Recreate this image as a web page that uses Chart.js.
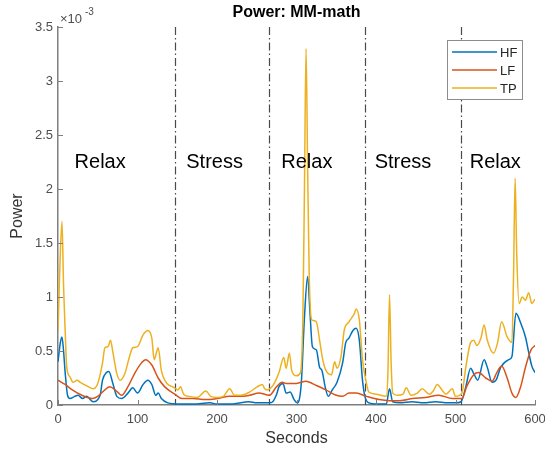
<!DOCTYPE html>
<html>
<head>
<meta charset="utf-8">
<script src="https://cdn.jsdelivr.net/npm/chart.js@4"></script>
<style>
  body { margin: 0; background: #fff; }
  canvas { display: block; }
</style>
</head>
<body>
<canvas id="powerChart" width="545" height="450"></canvas>
<script>
// power values are in units of 1e-3 (axis shows the x10^-3 multiplier)
const hfSec = [0, 3, 5, 7, 9, 12, 15, 21, 25, 31, 36, 44, 53, 56, 61, 64, 69, 74, 80, 88, 94, 100, 107, 113, 118, 123, 126, 130, 138, 150,
    170, 191, 200, 220, 240, 250, 260, 266, 270, 275, 278, 283, 287, 292, 297, 301, 306, 310, 314, 317, 320, 325, 329, 332, 336, 340, 345, 351, 358, 362,
    366, 371, 375, 379, 383, 386, 391, 400, 413, 417, 421, 430, 445, 460, 475, 490, 500, 507, 513, 519, 523, 528, 536, 540, 546, 551, 557, 567, 571, 576,
    582, 588, 592, 596, 600];
const hfVal = [0.4, 0.58, 0.63, 0.5, 0.3, 0.09, 0.06, 0.08, 0.09, 0.06, 0.08, 0.03, 0.09, 0.23, 0.3, 0.31, 0.2, 0.08, 0.06, 0.11, 0.16, 0.11, 0.19, 0.23, 0.19, 0.09, 0.11, 0.06, 0.02, 0.01,
    0.01, 0.02, 0.01, 0.01, 0.03, 0.02, 0.02, 0.02, 0.03, 0.1, 0.17, 0.2, 0.11, 0.12, 0.05, 0.02, 0.2, 0.81, 1.19, 0.85, 0.54, 0.51, 0.35, 0.32, 0.17, 0.08, 0.14, 0.21, 0.39, 0.58,
    0.62, 0.69, 0.71, 0.6, 0.23, 0.08, 0.02, 0.01, 0.01, 0.15, 0.03, 0.02, 0.03, 0.02, 0.03, 0.02, 0.02, 0.03, 0.17, 0.34, 0.29, 0.23, 0.42, 0.35, 0.21, 0.23, 0.35, 0.42, 0.45, 0.85,
    0.76, 0.63, 0.49, 0.36, 0.3];

const lfSec = [0, 9, 18, 30, 43, 50, 59, 65, 75, 80, 88, 97, 105, 110, 118, 126, 134, 147, 156, 170, 185, 200, 216, 230, 241, 253, 260, 266, 275, 282,
    287, 300, 312, 325, 337, 350, 358, 366, 375, 388, 404, 417, 430, 446, 462, 479, 496, 508, 514, 523, 529, 538, 546, 552, 558, 565, 571, 576, 582, 588,
    595, 600];
const lfVal = [0.23, 0.19, 0.14, 0.09, 0.06, 0.08, 0.14, 0.17, 0.12, 0.09, 0.17, 0.3, 0.39, 0.42, 0.37, 0.25, 0.17, 0.1, 0.06, 0.06, 0.05, 0.06, 0.08, 0.08, 0.09, 0.11, 0.1, 0.09, 0.17, 0.21,
    0.2, 0.2, 0.22, 0.18, 0.14, 0.09, 0.08, 0.11, 0.11, 0.08, 0.05, 0.04, 0.04, 0.06, 0.07, 0.09, 0.06, 0.06, 0.17, 0.28, 0.3, 0.25, 0.22, 0.3, 0.36, 0.25, 0.11, 0.07, 0.17, 0.35,
    0.51, 0.55];

const tpSec = [0, 2, 5, 7, 9, 11, 15, 19, 24, 28, 38, 44, 50, 56, 59, 63, 66, 69, 74, 78, 84, 90, 94, 100, 107, 113, 118, 121, 124, 126,
    130, 137, 144, 151, 154, 158, 165, 175, 186, 192, 200, 208, 216, 222, 230, 241, 251, 257, 260, 263, 268, 272, 278, 284, 287, 291, 294, 300, 305, 308,
    310, 312, 314, 316, 319, 322, 325, 329, 333, 337, 344, 348, 351, 356, 360, 366, 373, 375, 379, 383, 388, 391, 400, 413, 415, 417, 419, 421, 427, 434,
    438, 444, 452, 458, 467, 472, 477, 483, 488, 496, 500, 508, 513, 519, 523, 527, 532, 536, 540, 548, 553, 558, 565, 571, 573, 575, 577, 580, 584, 588,
    592, 596, 600];
const tpVal = [0.68, 1.2, 1.7, 1.1, 0.69, 0.35, 0.26, 0.21, 0.23, 0.21, 0.17, 0.15, 0.2, 0.39, 0.53, 0.54, 0.6, 0.49, 0.29, 0.23, 0.29, 0.45, 0.53, 0.54, 0.65, 0.69, 0.62, 0.42, 0.49, 0.53,
    0.32, 0.2, 0.17, 0.14, 0.17, 0.1, 0.08, 0.07, 0.13, 0.08, 0.07, 0.08, 0.15, 0.09, 0.09, 0.12, 0.17, 0.19, 0.15, 0.14, 0.16, 0.2, 0.3, 0.44, 0.34, 0.48, 0.32, 0.27, 0.3, 0.8,
    2.0, 3.3, 2.2, 1.2, 0.79, 0.78, 0.77, 0.6, 0.42, 0.32, 0.28, 0.4, 0.34, 0.45, 0.69, 0.77, 0.85, 0.89, 0.79, 0.42, 0.2, 0.12, 0.1, 0.08, 0.3, 1.02, 0.4, 0.11, 0.09, 0.1,
    0.16, 0.09, 0.11, 0.15, 0.1, 0.13, 0.19, 0.14, 0.1, 0.15, 0.08, 0.11, 0.35, 0.58, 0.6, 0.55, 0.62, 0.74, 0.6, 0.48, 0.58, 0.77, 0.63, 0.58, 1.2, 2.1, 1.4, 0.94, 1.0, 0.97,
    1.04, 0.94, 0.98];

const seriesNames = ['HF', 'LF', 'TP'];
const seriesColors = ['#0072BD', '#D95319', '#EDB120'];

const phaseNames = ['Relax', 'Stress', 'Relax', 'Stress', 'Relax'];
const phaseCenters = [53, 197, 313, 434, 550];
const phaseBounds = [147, 266, 386, 506.5];
const phaseLabelLevel = 2.25;

const FONT = '"Liberation Sans", Arial, Helvetica, sans-serif';
const AXIS_GRAY = '#7f7f7f';
const TEXT_GRAY = '#4d4d4d';

const toPoints = (xs, ys) => xs.map((x, i) => ({ x, y: ys[i] }));

const makeDataset = (i, xs, ys, order) => ({
    label: seriesNames[i],
    data: toPoints(xs, ys),
    borderColor: seriesColors[i],
    backgroundColor: seriesColors[i],
    borderWidth: 1.5,
    pointRadius: 0,
    cubicInterpolationMode: 'monotone',
    fill: false,
    order
});

// dash-dot phase boundaries, drawn under the series
const phaseLines = {
    id: 'phaseLines',
    beforeDatasetsDraw(chart) {
        const { ctx, chartArea, scales: { x } } = chart;
        ctx.save();
        ctx.strokeStyle = '#4a4a4a';
        ctx.lineWidth = 1.2;
        ctx.setLineDash([8, 3, 1.5, 3]);
        phaseBounds.forEach(b => {
            const px = Math.round(x.getPixelForValue(b)) + 0.5;
            ctx.beginPath();
            ctx.moveTo(px, chartArea.top);
            ctx.lineTo(px, chartArea.bottom);
            ctx.stroke();
        });
        ctx.restore();
    }
};

const decorations = {
    id: 'decorations',
    afterDraw(chart) {
        const { ctx, chartArea, scales: { x, y } } = chart;
        ctx.save();

        // inward tick marks, matlab style
        ctx.strokeStyle = AXIS_GRAY;
        ctx.lineWidth = 1;
        x.ticks.forEach(t => {
            const px = Math.round(x.getPixelForValue(t.value)) + 0.5;
            ctx.beginPath();
            ctx.moveTo(px, chartArea.bottom);
            ctx.lineTo(px, chartArea.bottom - 5);
            ctx.stroke();
        });
        y.ticks.forEach(t => {
            const py = Math.round(y.getPixelForValue(t.value)) + 0.5;
            ctx.beginPath();
            ctx.moveTo(chartArea.left, py);
            ctx.lineTo(chartArea.left + 5, py);
            ctx.stroke();
        });

        // phase labels
        ctx.fillStyle = '#000';
        ctx.font = `20px ${FONT}`;
        ctx.textAlign = 'center';
        ctx.textBaseline = 'middle';
        phaseNames.forEach((name, i) => {
            ctx.fillText(name, x.getPixelForValue(phaseCenters[i]), y.getPixelForValue(phaseLabelLevel));
        });

        // title
        ctx.font = `bold 16px ${FONT}`;
        ctx.fillStyle = '#000';
        ctx.fillText('Power: MM-math', (chartArea.left + chartArea.right) / 2, 13);

        // exponent
        ctx.fillStyle = TEXT_GRAY;
        ctx.textAlign = 'left';
        ctx.font = `13px ${FONT}`;
        ctx.fillText('\u00d710', chartArea.left + 2, 19);
        ctx.font = `10px ${FONT}`;
        ctx.fillText('-3', chartArea.left + 27, 12);

        // legend box
        const bw = 75, bh = 59;
        const bx = chartArea.right - 13 - bw;
        const by = chartArea.top + 13;
        ctx.fillStyle = '#fff';
        ctx.fillRect(bx, by, bw, bh);
        ctx.strokeStyle = '#8c8c8c';
        ctx.lineWidth = 1;
        ctx.strokeRect(bx + 0.5, by + 0.5, bw, bh);
        ctx.font = `13px ${FONT}`;
        ctx.textBaseline = 'middle';
        chart.data.datasets.forEach((ds, i) => {
            const ry = by + 12 + i * 18;
            ctx.strokeStyle = ds.borderColor;
            ctx.lineWidth = 1.5;
            ctx.beginPath();
            ctx.moveTo(bx + 5, ry);
            ctx.lineTo(bx + 50, ry);
            ctx.stroke();
            ctx.fillStyle = '#262626';
            ctx.fillText(ds.label, bx + 53, ry + 1);
        });

        ctx.restore();
    }
};

new Chart(document.getElementById('powerChart'), {
    type: 'line',
    data: {
        datasets: [
            makeDataset(0, hfSec, hfVal, 2),
            makeDataset(1, lfSec, lfVal, 1),
            makeDataset(2, tpSec, tpVal, 0)
        ]
    },
    options: {
        responsive: false,
        animation: false,
        layout: { padding: { top: 27, right: 10, left: 0, bottom: 0 } },
        plugins: { legend: { display: false }, tooltip: { enabled: false } },
        scales: {
            x: {
                type: 'linear',
                min: 0,
                max: 600,
                ticks: { stepSize: 100, padding: 7, maxRotation: 0, color: TEXT_GRAY, font: { family: FONT, size: 13 } },
                grid: { display: false, drawTicks: false },
                border: { color: AXIS_GRAY, width: 1.5 },
                title: { display: true, text: 'Seconds', color: '#333', font: { family: FONT, size: 16 }, padding: { bottom: 2 } },
                afterFit: s => { s.height = 45; s.paddingLeft = 0; s.paddingRight = 0; }
            },
            y: {
                min: 0,
                max: 3.5,
                ticks: { stepSize: 0.5, padding: 5, color: TEXT_GRAY, font: { family: FONT, size: 13 }, callback: v => String(v) },
                grid: { display: false, drawTicks: false },
                border: { color: AXIS_GRAY, width: 1.5 },
                title: { display: true, text: 'Power', color: '#333', font: { family: FONT, size: 16 }, padding: { top: 8 } },
                afterFit: s => { s.width = 58; s.paddingTop = 0; s.paddingBottom = 0; }
            }
        }
    },
    plugins: [phaseLines, decorations]
});
</script>
</body>
</html>
